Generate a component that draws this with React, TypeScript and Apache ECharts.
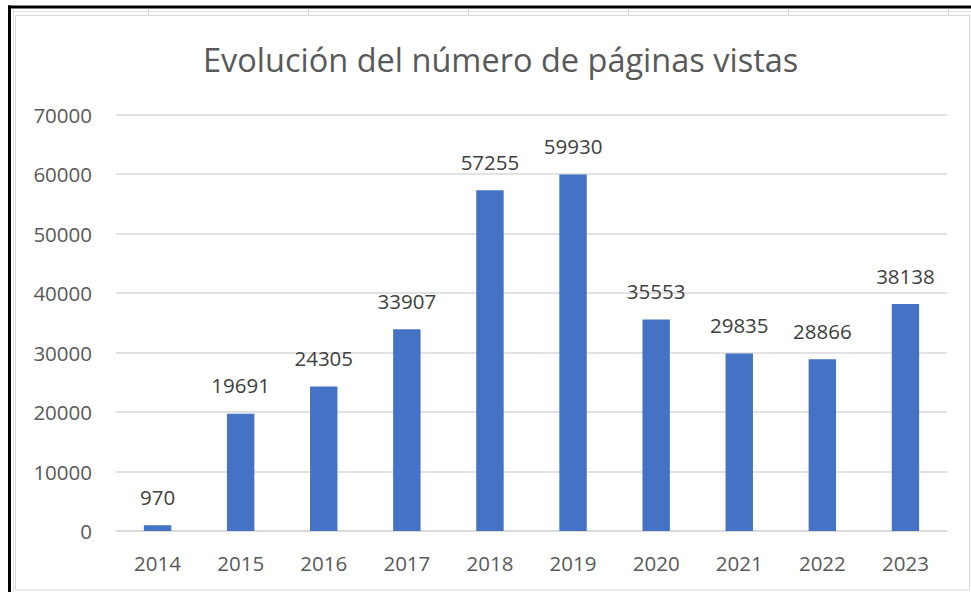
import React, { useEffect, useRef } from "react";
import * as echarts from "echarts";

const title = "Evolución del número de páginas vistas";
const years = ["2014", "2015", "2016", "2017", "2018", "2019", "2020", "2021", "2022", "2023"];
const pageViews = [970, 19691, 24305, 33907, 57255, 59930, 35553, 29835, 28866, 38138];
const sheetColumnLines = [148, 308, 468, 628, 788, 948];

export default function App() {
  const ref = useRef<HTMLDivElement>(null);
  useEffect(() => {
    document.body.style.margin = "0";
    const chart = echarts.init(ref.current!, null, { renderer: "svg" });
    const font = "'Open Sans', 'Noto Sans', sans-serif";
    const graphics: any[] = [
      { type: "rect", shape: { x: 0, y: 0, width: 971, height: 592 }, style: { fill: "#ffffff" }, silent: true, z: -10 },
      { type: "rect", shape: { x: 15.5, y: 15.5, width: 954, height: 574.5 }, style: { fill: "#ffffff", stroke: "#d9d9d9", lineWidth: 1 }, silent: true, z: -9 },
      { type: "line", shape: { x1: 12, y1: 11.5, x2: 971, y2: 11.5 }, style: { stroke: "#e2e2e2", lineWidth: 1 }, silent: true },
      { type: "line", shape: { x1: 13.5, y1: 9, x2: 13.5, y2: 592 }, style: { stroke: "#e2e2e2", lineWidth: 1 }, silent: true },
      { type: "line", shape: { x1: 8, y1: 7, x2: 971, y2: 7 }, style: { stroke: "#000000", lineWidth: 3 }, silent: true },
      { type: "line", shape: { x1: 9.5, y1: 5.5, x2: 9.5, y2: 592 }, style: { stroke: "#000000", lineWidth: 3 }, silent: true },
    ];
    sheetColumnLines.forEach((x) => {
      graphics.push({ type: "line", shape: { x1: x + 0.5, y1: 9, x2: x + 0.5, y2: 15 }, style: { stroke: "#d6d6d6", lineWidth: 1 }, silent: true });
    });
    chart.setOption({
      animation: false,
      backgroundColor: "transparent",
      graphic: graphics,
      title: {
        text: title,
        left: 198,
        top: 38,
        textStyle: { fontFamily: font, fontSize: 32.5, fontWeight: "normal", color: "#595959" },
      },
      grid: { left: 116, right: 24, top: 114.5, bottom: 61, containLabel: false },
      xAxis: {
        type: "category",
        data: years,
        axisLine: { lineStyle: { color: "#d9d9d9", width: 1.5 } },
        axisTick: { show: false },
        axisLabel: { fontFamily: font, fontSize: 20.5, color: "#595959", margin: 21 },
      },
      yAxis: {
        type: "value",
        min: 0,
        max: 70000,
        interval: 10000,
        axisLine: { show: false },
        axisTick: { show: false },
        splitLine: { lineStyle: { color: "#d9d9d9", width: 1.5 } },
        axisLabel: { fontFamily: font, fontSize: 20.5, color: "#595959", margin: 24, formatter: (v: number) => String(v) },
      },
      series: [
        {
          type: "bar",
          data: pageViews,
          barWidth: "33%",
          itemStyle: { color: "#4472c4" },
          label: {
            show: true,
            position: "top",
            distance: 18,
            fontFamily: font,
            fontSize: 20.5,
            color: "#404040",
          },
        },
      ],
    });
    return () => chart.dispose();
  }, []);
  return <div ref={ref} style={{ width: 971, height: 592 }} />;
}
